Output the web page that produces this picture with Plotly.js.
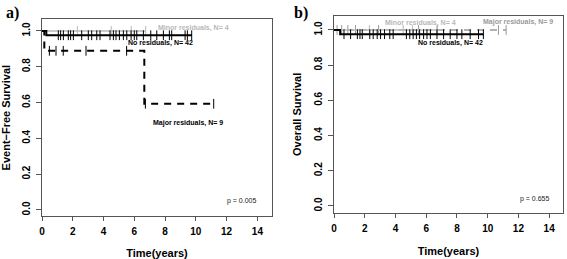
<!DOCTYPE html>
<html>
<head>
<meta charset="utf-8">
<script src="https://cdn.plot.ly/plotly-3.0.1.min.js"></script>
<style>html,body{margin:0;padding:0;background:#fff;}#chart{width:567px;height:259px;}</style>
</head>
<body>
<div id="chart"></div>
<script>
// ---------- Panel a) Event-Free Survival ----------
var efsNoResTimes = [0, 0.28, 9.75];
var efsNoResSurv = [1.0, 0.976, 0.976];
var efsNoResCensor = [1.06, 1.21, 1.39, 1.71, 1.86, 2.04, 2.58, 3.01, 3.23, 3.56, 3.77, 4.42, 4.64, 4.81, 5.03, 5.29, 5.51, 5.79, 6.0, 6.16, 6.59, 7.07, 7.46, 7.89, 8.28, 8.43, 9.3, 9.45, 9.73];

var efsMinorTimes = [0, 6.74];
var efsMinorSurv = [1.0, 1.0];
var efsMinorCensor = [2.3, 4.5, 5.8, 6.74];

var efsMajorTimes = [0, 0.15, 6.65, 11.16];
var efsMajorSurv = [1.0, 0.889, 0.593, 0.593];
var efsMajorCensor = [0.48, 0.91, 1.38, 2.86, 5.5, 6.72, 11.16];
var efsMajorCensorSurv = [0.889, 0.889, 0.889, 0.889, 0.889, 0.593, 0.593];

// ---------- Panel b) Overall Survival ----------
var osNoResTimes = [0, 0.4, 9.72];
var osNoResSurv = [1.0, 0.976, 0.976];
var osNoResCensor = [0.65, 1.08, 1.52, 1.69, 1.84, 2.33, 2.55, 2.81, 3.03, 3.29, 3.63, 3.85, 4.71, 4.93, 5.15, 5.36, 5.57, 5.83, 6.05, 6.27, 6.7, 7.13, 7.56, 8.0, 8.32, 8.86, 9.4, 9.72];

var osMinorTimes = [0, 6.74];
var osMinorSurv = [1.0, 1.0];
var osMinorCensor = [2.3, 4.5, 5.1, 6.74];

var osMajorTimes = [0, 11.2];
var osMajorSurv = [1.0, 1.0];
var osMajorCensor = [0.2, 0.5, 0.9, 1.4, 2.9, 5.5, 6.7, 10.7, 11.2];

var xTicks = [0, 2, 4, 6, 8, 10, 12, 14];
var yTicks = [0, 0.2, 0.4, 0.6, 0.8, 1.0];
var yTickText = ["0.0", "0.2", "0.4", "0.6", "0.8", "1.0"];

var pValueA = "p = 0.005";
var pValueB = "p = 0.655";
var groupLabels = ["No residuals, N= 42", "Minor residuals, N= 4", "Major residuals, N= 9"];

var BLACK = "#000000", MINOR = "#b8b8b8", MAJOR_B = "#9a9a9a";

function stepTrace(x, y, xa, ya, color, width, dash) {
  return {x: x, y: y, xaxis: xa, yaxis: ya, mode: "lines", type: "scatter",
    line: {shape: "hv", color: color, width: width, dash: dash}, hoverinfo: "skip", showlegend: false};
}
function survAt(times, surv, t) {
  var s = surv[0];
  for (var i = 0; i < times.length; i++) { if (times[i] <= t) s = surv[i]; }
  return s;
}
function censorTrace(cx, cy, xa, ya, color) {
  return {x: cx, y: cy, xaxis: xa, yaxis: ya, mode: "markers", type: "scatter",
    marker: {symbol: "line-ns-open", size: 7, color: color, line: {color: color, width: 1}},
    hoverinfo: "skip", showlegend: false};
}

var data = [
  stepTrace(efsMinorTimes, efsMinorSurv, "x", "y", MINOR, 1.5, "solid"),
  censorTrace(efsMinorCensor, efsMinorCensor.map(function(t){return survAt(efsMinorTimes, efsMinorSurv, t);}), "x", "y", MINOR),
  stepTrace(efsMajorTimes, efsMajorSurv, "x", "y", BLACK, 2, "7px,6px"),
  censorTrace(efsMajorCensor, efsMajorCensorSurv, "x", "y", BLACK),
  stepTrace(efsNoResTimes, efsNoResSurv, "x", "y", BLACK, 2, "solid"),
  censorTrace(efsNoResCensor, efsNoResCensor.map(function(t){return survAt(efsNoResTimes, efsNoResSurv, t);}), "x", "y", BLACK),

  stepTrace(osMajorTimes, osMajorSurv, "x2", "y2", MAJOR_B, 1.5, "7px,6px"),
  censorTrace(osMajorCensor, osMajorCensor.map(function(t){return survAt(osMajorTimes, osMajorSurv, t);}), "x2", "y2", MAJOR_B),
  stepTrace(osMinorTimes, osMinorSurv, "x2", "y2", MINOR, 1.5, "solid"),
  censorTrace(osMinorCensor, osMinorCensor.map(function(t){return survAt(osMinorTimes, osMinorSurv, t);}), "x2", "y2", MINOR),
  stepTrace(osNoResTimes, osNoResSurv, "x2", "y2", BLACK, 2, "solid"),
  censorTrace(osNoResCensor, osNoResCensor.map(function(t){return survAt(osNoResTimes, osNoResSurv, t);}), "x2", "y2", BLACK)
];

var FONT = "Liberation Sans, Arial, sans-serif";
function xAxis(domain, range, anchor) {
  return {domain: domain, range: range, anchor: anchor, tickvals: xTicks, ticks: "outside", ticklen: 4,
    tickcolor: "#555", showline: true, mirror: true, linecolor: "#555", linewidth: 1,
    showgrid: false, zeroline: false, ticklabelstandoff: 2,
    tickfont: {family: FONT, size: 10, color: "#000", weight: "bold"},
    title: {text: "Time(years)", standoff: 14, font: {family: FONT, size: 11, color: "#000", weight: "bold"}}};
}
function yAxis(domain, range, anchor, title) {
  return {domain: domain, range: range, anchor: anchor, tickvals: yTicks, ticktext: yTickText, tickangle: -90,
    ticks: "outside", ticklen: 5, tickcolor: "#555", showline: true, mirror: true, linecolor: "#555", linewidth: 1,
    showgrid: false, zeroline: false, ticklabelstandoff: 2,
    tickfont: {family: FONT, size: 10, color: "#000", weight: "bold"},
    title: {text: title, standoff: 9, font: {family: FONT, size: 11, color: "#000", weight: "bold"}}};
}

var lblFont = function(c){ return {family: FONT, size: 7, color: c, weight: "bold"}; };
var layout = {
  width: 567, height: 259, margin: {l: 0, r: 0, t: 0, b: 0},
  paper_bgcolor: "#fff", plot_bgcolor: "#fff", showlegend: false,
  xaxis: xAxis([41.7/567, 272.3/567], [-0.02, 14.97], "y"),
  yaxis: yAxis([1 - 216/259, 1 - 19.3/259], [-0.034, 1.065], "x", "Event\u2212Free Survival"),
  xaxis2: xAxis([334/567, 563/567], [0.0, 14.9], "y2"),
  yaxis2: yAxis([1 - 213/259, 1 - 15.7/259], [-0.04, 1.081], "x2", "Overall Survival"),
  annotations: [
    {text: "a)", xref: "paper", yref: "paper", x: 4/567, y: 1 - 2/259, xanchor: "left", yanchor: "top", showarrow: false,
      font: {family: "Liberation Serif, Times New Roman, serif", size: 16, color: "#000", weight: "bold"}},
    {text: "b)", xref: "paper", yref: "paper", x: 292/567, y: 1 - 2/259, xanchor: "left", yanchor: "top", showarrow: false,
      font: {family: "Liberation Serif, Times New Roman, serif", size: 16, color: "#000", weight: "bold"}},
    {text: groupLabels[1], xref: "x", yref: "y", x: 7.39, y: 1.018, xanchor: "left", showarrow: false, font: lblFont(MINOR)},
    {text: groupLabels[0], xref: "x", yref: "y", x: 5.46, y: 0.931, xanchor: "left", showarrow: false, font: lblFont(BLACK)},
    {text: groupLabels[2], xref: "x", yref: "y", x: 9.46, y: 0.488, xanchor: "center", showarrow: false, font: lblFont(BLACK)},
    {text: pValueA, xref: "x", yref: "y", x: 13.0, y: 0.052, xanchor: "center", showarrow: false, font: {family: FONT, size: 7, color: "#222"}},
    {text: groupLabels[1], xref: "x2", yref: "y2", x: 5.65, y: 1.038, xanchor: "center", showarrow: false, font: lblFont(MINOR)},
    {text: groupLabels[2], xref: "x2", yref: "y2", x: 12.0, y: 1.047, xanchor: "center", showarrow: false, font: lblFont(MAJOR_B)},
    {text: groupLabels[0], xref: "x2", yref: "y2", x: 7.56, y: 0.928, xanchor: "center", showarrow: false, font: lblFont(BLACK)},
    {text: pValueB, xref: "x2", yref: "y2", x: 13.05, y: 0.04, xanchor: "center", showarrow: false, font: {family: FONT, size: 7, color: "#222"}}
  ]
};

Plotly.newPlot("chart", data, layout, {staticPlot: true, displayModeBar: false});
</script>
</body>
</html>
